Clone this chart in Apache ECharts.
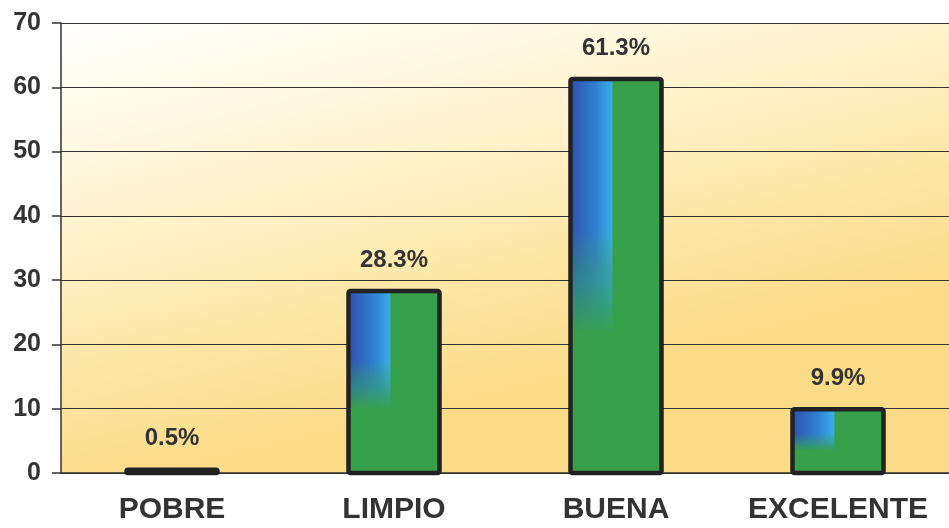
<!DOCTYPE html>
<html>
<head>
<meta charset="utf-8">
<title>Calificación</title>
<script src="https://cdn.jsdelivr.net/npm/echarts@6/dist/echarts.min.js"></script>
<style>
  html, body { margin: 0; padding: 0; background: #ffffff; }
  #chart { width: 949px; height: 528px; }
</style>
</head>
<body>
<div id="chart"></div>
<script>
// Categories and percentages shown on the bars
const categories = ['POBRE', 'LIMPIO', 'BUENA', 'EXCELENTE'];
const values = [0.5, 28.3, 61.3, 9.9];
// Value axis range
const yMin = 0;
const yMax = 70;
const yStep = 10;

const GREEN = '#37a04a';
const FONT = '"Liberation Sans", Arial, sans-serif';

function renderBar(params, api) {
  const cat = api.value(0);
  const val = api.value(1);
  const top = api.coord([cat, val]);
  const base = api.coord([cat, 0]);
  const band = api.size([1, 0])[0];
  const w = band * 0.41;
  const left = top[0] - w / 2;
  const y0 = top[1];
  const h = base[1] - top[1];

  return {
    type: 'group',
    children: [
      // green body
      { type: 'rect', shape: { x: left, y: y0, width: w, height: h },
        style: { fill: GREEN } },
      // blue sheen in the upper-left part of the bar
      { type: 'rect', shape: { x: left, y: y0, width: w * 0.46, height: h * 0.64 },
        style: { fill: new echarts.graphic.LinearGradient(0, 0, 1, 0, [
          { offset: 0, color: '#2d52b0' },
          { offset: 0.6, color: '#2f80d0' },
          { offset: 1, color: '#3aaeea' }
        ]) } },
      // soft fade from blue into green
      { type: 'rect', shape: { x: left, y: y0 + h * 0.38, width: w * 0.47, height: h * 0.27 },
        style: { fill: new echarts.graphic.LinearGradient(0, 0, 0, 1, [
          { offset: 0, color: 'rgba(55,160,74,0)' },
          { offset: 0.5, color: 'rgba(50,158,110,0.55)' },
          { offset: 1, color: 'rgba(55,160,74,1)' }
        ]) } },
      // dark outline
      { type: 'rect', shape: { x: left, y: y0, width: w, height: h, r: 2 },
        style: { fill: 'none', stroke: '#222222', lineWidth: 4.5 } },
      // percentage label
      { type: 'text', style: {
          text: val.toFixed(1) + '%', x: top[0], y: y0 - 19,
          align: 'center', verticalAlign: 'bottom',
          font: 'bold 24px ' + FONT, fill: '#333333' } }
    ]
  };
}

const chart = echarts.init(document.getElementById('chart'), null, { renderer: 'canvas' });
chart.setOption({
  animation: false,
  backgroundColor: '#ffffff',
  grid: {
    left: 61, right: -5, top: 23, bottom: 55,
    show: true, borderWidth: 0,
    backgroundColor: new echarts.graphic.LinearGradient(0, 0, 0.12, 1, [
      { offset: 0, color: '#ffffff' },
      { offset: 0.4, color: '#fff5d4' },
      { offset: 0.75, color: '#fde6a4' },
      { offset: 1, color: '#fadb88' }
    ])
  },
  xAxis: {
    type: 'category',
    data: categories,
    axisLine: { show: true, lineStyle: { color: '#333333', width: 1.5 } },
    axisTick: { show: false },
    axisLabel: { interval: 0, margin: 22, color: '#333333', fontWeight: 'bold', fontSize: 30, fontFamily: FONT },
    splitLine: { show: false }
  },
  yAxis: {
    type: 'value',
    min: yMin, max: yMax, interval: yStep,
    axisLine: { show: true, lineStyle: { color: '#333333', width: 1.5 } },
    axisTick: { show: true, length: 9, lineStyle: { color: '#333333', width: 1.5 } },
    axisLabel: { margin: 20, color: '#333333', fontWeight: 'bold', fontSize: 25, fontFamily: FONT },
    splitLine: { show: true, lineStyle: { color: '#333333', width: 1.2 } }
  },
  series: [{
    type: 'custom',
    renderItem: renderBar,
    encode: { x: 0, y: 1 },
    data: values.map((v, i) => [i, v]),
    clip: false
  }]
});
</script>
</body>
</html>
